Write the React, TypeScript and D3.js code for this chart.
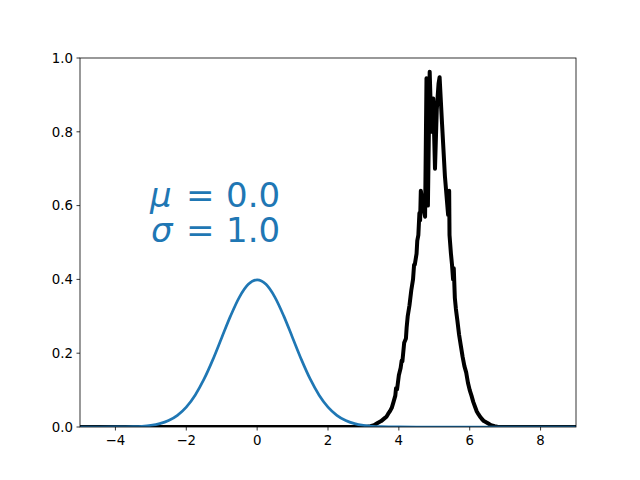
import React from "react";
import * as d3 from "d3";

const W = 640;
const H = 480;
const margin = { left: 80, right: 64, top: 58, bottom: 53 };

const xTicks = [-4, -2, 0, 2, 4, 6, 8];
const yTicks = [0, 0.2, 0.4, 0.6, 0.8, 1.0];

// Blue curve (normal pdf, mu=0, sigma=1)
const blueX = [-5, -4.5, -4, -3.75, -3.5, -3.25, -3, -2.75, -2.5, -2.25, -2, -1.75, -1.5, -1.25, -1, -0.75, -0.5, -0.25, 0,
  0.25, 0.5, 0.75, 1, 1.25, 1.5, 1.75, 2, 2.25, 2.5, 2.75, 3, 3.25, 3.5, 3.75, 4, 4.5, 5, 9];
const blueY = [0, 0, 0.0001, 0.0004, 0.0009, 0.002, 0.0044, 0.0091, 0.0175, 0.0317, 0.054, 0.0863, 0.1295, 0.1826, 0.242, 0.3011, 0.3521, 0.3867, 0.3989,
  0.3867, 0.3521, 0.3011, 0.242, 0.1826, 0.1295, 0.0863, 0.054, 0.0317, 0.0175, 0.0091, 0.0044, 0.002, 0.0009, 0.0004, 0.0001, 0, 0, 0];

// Black noisy curve
const blackX = [-5, 3.0, 3.1, 3.2, 3.3, 3.4, 3.5, 3.6, 3.65, 3.7, 3.75, 3.8, 3.85, 3.9, 3.92, 3.95, 4.0, 4.05, 4.08, 4.1, 4.15, 4.2, 4.22,
  4.25, 4.3, 4.35, 4.4, 4.43, 4.45, 4.5, 4.52, 4.55, 4.58, 4.6, 4.62, 4.68, 4.74, 4.78, 4.82, 4.87, 4.92, 4.97, 5.02, 5.07, 5.12, 5.15,
  5.22, 5.3, 5.39, 5.42, 5.43, 5.47, 5.5, 5.53, 5.55, 5.58, 5.61, 5.65, 5.7, 5.75, 5.8, 5.85, 5.9, 5.95, 6.0, 6.05, 6.1, 6.15, 6.2, 6.25,
  6.3, 6.35, 6.4, 6.5, 6.6, 6.7, 6.8, 9];
const blackY = [0, 0, 0.001, 0.002, 0.005, 0.011, 0.016, 0.024, 0.028, 0.036, 0.043, 0.052, 0.068, 0.085, 0.105, 0.102, 0.14, 0.16, 0.18, 0.178, 0.228, 0.24, 0.27,
  0.3, 0.33, 0.37, 0.4, 0.44, 0.44, 0.47, 0.505, 0.52, 0.58, 0.56, 0.64, 0.6, 0.57, 0.945, 0.6, 0.963, 0.8, 0.89, 0.7, 0.86, 0.93, 0.948,
  0.82, 0.68, 0.575, 0.64, 0.52, 0.47, 0.44, 0.4, 0.43, 0.35, 0.32, 0.29, 0.25, 0.22, 0.19, 0.165, 0.148, 0.12, 0.1, 0.085, 0.068, 0.055, 0.042, 0.034,
  0.027, 0.021, 0.016, 0.011, 0.005, 0.002, 0, 0];

const font = "'DejaVu Sans', sans-serif";

export default function App() {
  const x = d3.scaleLinear().domain([-5, 9]).range([margin.left, W - margin.right]);
  const y = d3.scaleLinear().domain([0, 1]).range([H - margin.bottom, margin.top]);
  const line = d3.line<[number, number]>().x((d) => x(d[0])).y((d) => y(d[1]));
  const blueLine = d3.line<[number, number]>().x((d) => x(d[0])).y((d) => y(d[1])).curve(d3.curveMonotoneX);
  const blackPts = blackX.map((v, i) => [v, blackY[i]] as [number, number]);
  const bluePts = blueX.map((v, i) => [v, blueY[i]] as [number, number]);
  const x0 = margin.left, x1 = W - margin.right, y0 = H - margin.bottom, y1 = margin.top;
  const fmtY = (v: number) => v.toFixed(1);
  const fmtX = (v: number) => (v < 0 ? "\u2212" + Math.abs(v) : String(v));
  return (
    <svg width={W} height={H} style={{ display: "block", position: "absolute", left: 0, top: 0 }}>
      <rect width={W} height={H} fill="white" />
      <defs>
        <clipPath id="ax">
          <rect x={x0} y={y1} width={x1 - x0} height={y0 - y1} />
        </clipPath>
      </defs>
      <g clipPath="url(#ax)">
        <path d={line(blackPts) || ""} fill="none" stroke="black" strokeWidth={4} strokeLinejoin="round" />
        <path d={blueLine(bluePts) || ""} fill="none" stroke="#1f77b4" strokeWidth={2.7} strokeLinejoin="round" />
      </g>
      <rect x={x0} y={y1} width={x1 - x0} height={y0 - y1} fill="none" stroke="black" strokeWidth={0.8} />
      {xTicks.map((t) => (
        <g key={"x" + t}>
          <line x1={x(t)} x2={x(t)} y1={y0} y2={y0 + 3.5} stroke="black" strokeWidth={0.8} />
          <text x={x(t)} y={y0 + 17.5} textAnchor="middle" fontFamily={font} fontSize={13.33} fill="black">{fmtX(t)}</text>
        </g>
      ))}
      {yTicks.map((t) => (
        <g key={"y" + t}>
          <line x1={x0 - 3.5} x2={x0} y1={y(t)} y2={y(t)} stroke="black" strokeWidth={0.8} />
          <text x={x0 - 7} y={y(t) + 4.8} textAnchor="end" fontFamily={font} fontSize={13.33} fill="black">{fmtY(t)}</text>
        </g>
      ))}
      <g fontFamily={font} fontSize={34} fill="#1f77b4">
        <text x={150} y={207} fontStyle="italic">μ</text>
        <text x={186} y={207}>=</text>
        <text x={226} y={207}>0.0</text>
        <text x={151} y={242} fontStyle="italic">σ</text>
        <text x={186} y={242}>=</text>
        <text x={226} y={242}>1.0</text>
      </g>
    </svg>
  );
}
